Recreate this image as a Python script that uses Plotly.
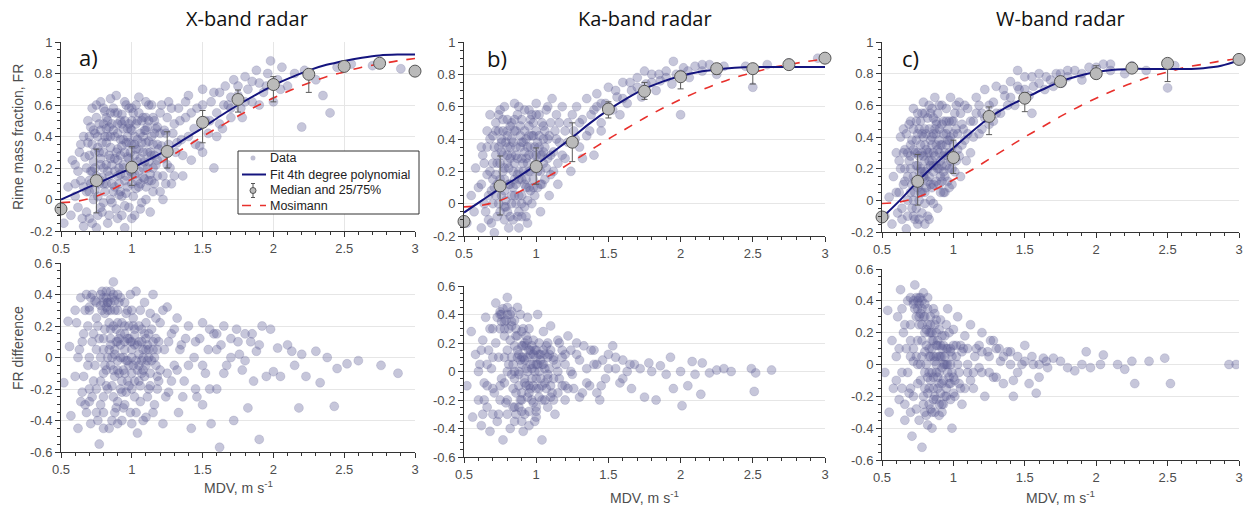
import plotly.graph_objects as go

# ---------------- data ----------------
BIN_X = [0.5, 0.75, 1.0, 1.25, 1.5, 1.75, 2.0, 2.25, 2.5, 2.75, 3.0]

# X-band medians and 25/75 percentiles
X_MED = [-0.06, 0.12, 0.205, 0.305, 0.49, 0.635, 0.73, 0.795, 0.845, 0.865, 0.815]
X_P25 = [-0.07, -0.085, 0.09, 0.2, 0.36, 0.555, 0.62, 0.68, 0.835, 0.855, 0.81]
X_P75 = [-0.05, 0.32, 0.335, 0.43, 0.565, 0.695, 0.78, 0.82, 0.855, 0.875, 0.82]
# Ka-band
K_MED = [-0.11, 0.11, 0.23, 0.38, 0.585, 0.695, 0.785, 0.835, 0.835, 0.86, 0.9]
K_P25 = [-0.12, -0.07, 0.12, 0.26, 0.53, 0.645, 0.71, 0.8, 0.74, 0.85, 0.895]
K_P75 = [-0.1, 0.295, 0.345, 0.5, 0.63, 0.75, 0.81, 0.85, 0.86, 0.87, 0.905]
# W-band (no bin at 2.75)
W_BIN_X = [0.5, 0.75, 1.0, 1.25, 1.5, 1.75, 2.0, 2.25, 2.5, 3.0]
W_MED = [-0.105, 0.12, 0.27, 0.53, 0.645, 0.75, 0.8, 0.835, 0.865, 0.89]
W_P25 = [-0.11, -0.03, 0.17, 0.415, 0.56, 0.74, 0.77, 0.825, 0.75, 0.885]
W_P75 = [-0.1, 0.29, 0.38, 0.59, 0.68, 0.76, 0.85, 0.845, 0.87, 0.895]

CURVE_X = [0.5, 0.625, 0.75, 0.875, 1.0, 1.125, 1.25, 1.375, 1.5, 1.625, 1.75,
           1.875, 2.0, 2.125, 2.25, 2.375, 2.5, 2.625, 2.75, 2.875, 3.0]
FIT_X = [0.0, 0.05, 0.1, 0.15, 0.2, 0.255, 0.315, 0.385, 0.455, 0.53, 0.6,
         0.665, 0.725, 0.775, 0.82, 0.855, 0.88, 0.9, 0.915, 0.92, 0.92]
FIT_K = [-0.055, 0.02, 0.095, 0.165, 0.24, 0.325, 0.41, 0.5, 0.58, 0.65, 0.71,
         0.755, 0.79, 0.815, 0.83, 0.84, 0.845, 0.845, 0.845, 0.845, 0.845]
FIT_W = [-0.11, 0.0, 0.12, 0.23, 0.33, 0.43, 0.52, 0.59, 0.645, 0.7, 0.75,
         0.785, 0.81, 0.825, 0.83, 0.83, 0.83, 0.83, 0.835, 0.85, 0.885]
MOSIMANN = [-0.02, -0.01, 0.02, 0.07, 0.13, 0.19, 0.26, 0.33, 0.4, 0.465, 0.53,
            0.59, 0.645, 0.695, 0.74, 0.78, 0.81, 0.84, 0.86, 0.88, 0.895]

# scatter clouds (MDV, FR) and (MDV, FR difference)
X_TOP = [(0.52,-0.15),(0.55,0.08),(0.57,-0.1),(0.6,0.22),(0.6,0.02),(0.62,-0.05),(0.63,0.3),(0.64,0.12),(0.58,0.25),(0.66,-0.17),
 (0.66,0.4),(0.68,0.05),(0.69,0.5),(0.7,-0.12),(0.7,0.28),(0.71,0.18),(0.72,0.58),(0.73,0.0),(0.74,0.42),(0.75,-0.18),
 (0.76,0.33),(0.77,0.1),(0.78,0.62),(0.78,0.22),(0.79,-0.08),(0.8,0.48),(0.81,0.05),(0.82,0.36),(0.83,-0.15),(0.84,0.15),
 (0.85,0.55),(0.85,0.26),(0.86,-0.02),(0.87,0.44),(0.88,0.08),(0.89,0.66),(0.9,0.32),(0.9,-0.12),(0.91,0.2),(0.92,0.5),
 (0.93,0.02),(0.94,0.38),(0.95,0.12),(0.95,-0.18),(0.96,0.6),(0.97,0.27),(0.98,-0.05),(0.99,0.45),(1.0,0.16),(1.0,0.35),
 (1.01,0.55),(1.02,-0.1),(1.03,0.07),(1.04,0.24),(1.05,0.65),(1.06,0.42),(1.07,-0.02),(1.08,0.3),(1.09,0.13),(1.1,0.52),
 (1.11,0.2),(1.12,0.37),(1.13,-0.08),(1.14,0.6),(1.15,0.05),(1.16,0.28),(1.17,0.45),(1.18,0.15),(1.2,0.55),(1.21,0.34),
 (1.22,0.0),(1.24,0.42),(1.25,0.22),(1.26,0.62),(1.28,0.1),(1.3,0.48),(1.31,0.3),(1.33,0.58),(1.35,0.38),(1.36,0.15),
 (1.38,0.52),(1.4,0.66),(1.42,0.25),(1.44,0.45),(1.46,0.58),(1.48,0.34),(1.5,0.7),(1.52,0.5),(1.54,0.42),(1.56,0.62),
 (1.58,0.2),(1.6,0.55),(1.62,0.68),(1.64,0.45),(1.66,0.72),(1.68,0.6),(1.7,0.52),(1.72,0.76),(1.75,0.66),(1.77,0.58),
 (1.8,0.78),(1.82,0.7),(1.85,0.62),(1.88,0.82),(1.9,0.74),(1.93,0.68),(1.96,0.8),(1.98,0.88),(2.0,0.62),(2.03,0.76),
 (2.06,0.84),(2.1,0.72),(2.15,0.8),(2.2,0.46),(2.22,0.82),(2.3,0.76),(2.35,0.66),(2.4,0.55),(2.45,0.84),(2.55,0.86),
 (2.7,0.85),(2.9,0.83),(0.8,0.3),(0.82,0.1),(0.88,0.4),(0.9,0.25),(0.92,0.05),(0.95,0.3),(0.97,0.45),(1.0,0.1),
 (1.02,0.28),(1.05,0.18),(1.08,0.4),(1.1,0.08),(0.75,0.15),(0.72,0.35),(0.85,0.0),(0.78,-0.05),(1.12,0.5),(1.15,0.35),
 (1.18,0.25),(1.22,0.15),(0.68,0.2),(0.93,-0.1),(0.98,0.58),(1.03,0.48)]
X_TOP_CORE = [(0.66,0.08),(0.67,0.27),(0.68,-0.08),(0.69,0.36),(0.7,0.12),(0.71,0.46),(0.72,-0.15),(0.73,0.24),(0.74,0.06),(0.75,0.52),
 (0.76,-0.1),(0.77,0.3),(0.78,0.44),(0.79,0.14),(0.8,-0.02),(0.81,0.56),(0.82,0.22),(0.83,0.4),(0.84,-0.1),(0.85,0.33),
 (0.86,0.1),(0.87,0.58),(0.88,0.18),(0.89,-0.06),(0.9,0.42),(0.91,0.03),(0.92,0.28),(0.93,0.54),(0.94,0.2),(0.95,-0.04),
 (0.96,0.36),(0.97,0.08),(0.98,0.48),(0.99,0.3),(1.0,-0.12),(1.01,0.22),(1.02,0.4),(1.03,0.6),(1.04,0.12),(1.05,0.32),
 (1.06,-0.06),(1.07,0.5),(1.08,0.2),(1.09,0.44),(1.1,0.0),(1.11,0.3),(1.12,0.6),(1.13,0.16),(1.14,0.4),(1.15,0.52),
 (1.16,0.1),(1.17,0.22),(1.18,0.46),(1.19,0.32),(1.2,0.05),(1.21,0.6),(1.22,0.26),(1.23,0.44),(1.24,0.1),(1.25,0.52),
 (1.26,0.35),(1.27,0.2),(1.28,0.58),(1.29,0.42),(1.3,0.15),(1.32,0.36),(1.34,0.5),(1.36,0.28),(1.38,0.62),(1.4,0.4),
 (0.62,0.18),(0.64,0.35),(0.65,-0.12),(0.6,0.1),(0.7,0.05),(0.72,0.18),(0.74,0.3),(0.76,0.4),(0.78,0.12),(0.8,0.2),
 (0.82,0.45),(0.84,0.28),(0.86,0.48),(0.88,0.55),(0.9,0.15),(0.92,0.38),(0.94,0.45),(0.96,0.15),(0.98,0.36),(1.0,0.5),
 (1.02,0.16),(1.04,0.38),(1.06,0.26),(1.08,0.52),(1.1,0.36),(1.12,0.24),(1.14,0.12),(1.16,0.5),(1.18,0.35),(1.2,0.42),
 (0.75,0.6),(0.8,0.58),(0.85,0.64),(0.9,0.55),(0.95,0.62),(1.0,0.58),(1.05,0.55),(1.1,0.62),(0.83,0.5),(0.93,0.48),
 (1.45,0.35),(1.5,0.6),(1.55,0.5),(1.6,0.4),(1.65,0.6),(1.7,0.65),(1.75,0.72),(1.8,0.62),(1.85,0.75),(1.9,0.6),
 (1.5,0.3),(1.42,0.55),(1.58,0.68),(1.62,0.48),(1.7,0.58),(1.78,0.52),(1.95,0.72),(2.05,0.7)]
X_TOP_DENSE = [(0.76,0.02),(0.78,0.26),(0.8,0.1),(0.81,0.4),(0.83,0.18),(0.84,0.46),(0.86,0.22),(0.87,0.05),(0.89,0.3),(0.9,0.48),
 (0.91,0.1),(0.93,0.34),(0.94,0.22),(0.96,0.04),(0.97,0.4),(0.99,0.18),(1.0,0.44),(1.01,0.02),(1.03,0.32),(1.04,0.5),
 (1.06,0.1),(1.07,0.36),(1.09,0.24),(1.1,0.44),(1.12,0.12),(1.13,0.3),(1.15,0.2),(1.16,0.42),(0.79,0.36),(0.82,0.52),
 (0.85,0.4),(0.88,0.26),(0.92,0.16),(0.95,0.5),(0.98,0.26),(1.02,0.35),(1.05,0.08),(1.08,0.14),(1.11,0.46),(1.14,0.28),
 (0.77,0.48),(0.74,0.2),(0.73,0.44),(0.71,0.1),(0.7,0.4)]

X_BOT = [(0.52,-0.16),(0.55,0.23),(0.56,0.07),(0.57,-0.37),(0.6,-0.12),(0.61,0.22),(0.62,-0.45),(0.63,0.05),(0.64,0.38),(0.65,-0.22),
 (0.66,0.15),(0.67,-0.3),(0.68,0.4),(0.69,-0.05),(0.7,0.3),(0.71,-0.42),(0.72,0.1),(0.73,-0.15),(0.74,0.36),(0.75,-0.35),
 (0.76,0.2),(0.77,-0.55),(0.78,0.0),(0.79,0.42),(0.8,-0.25),(0.81,0.28),(0.82,-0.08),(0.83,0.35),(0.84,-0.45),(0.85,0.12),
 (0.86,-0.18),(0.87,0.48),(0.88,0.05),(0.89,-0.32),(0.9,0.22),(0.91,-0.1),(0.92,0.38),(0.93,-0.4),(0.94,0.0),(0.95,0.15),
 (0.96,-0.22),(0.97,0.3),(0.98,-0.05),(0.99,-0.35),(1.0,0.1),(1.01,0.25),(1.02,-0.15),(1.03,0.42),(1.04,-0.48),(1.05,0.02),
 (1.06,-0.28),(1.07,0.18),(1.08,-0.08),(1.09,0.35),(1.1,-0.38),(1.11,0.08),(1.12,-0.2),(1.13,0.28),(1.14,-0.02),(1.15,0.4),
 (1.16,-0.3),(1.17,0.12),(1.18,-0.12),(1.2,0.22),(1.22,-0.42),(1.23,0.05),(1.25,0.32),(1.26,-0.22),(1.28,0.15),(1.3,-0.05),
 (1.32,0.25),(1.33,-0.35),(1.35,0.08),(1.37,-0.15),(1.4,0.2),(1.42,-0.45),(1.44,0.0),(1.46,-0.25),(1.48,0.12),(1.5,0.22),
 (1.52,-0.1),(1.54,0.05),(1.56,-0.42),(1.58,0.15),(1.6,-0.2),(1.62,-0.57),(1.63,0.08),(1.65,0.2),(1.67,-0.05),(1.7,0.12),
 (1.72,-0.4),(1.74,0.18),(1.76,0.02),(1.78,-0.08),(1.8,0.15),(1.82,-0.32),(1.84,0.1),(1.86,-0.15),(1.88,0.04),(1.9,-0.52),
 (1.92,0.2),(1.95,-0.12),(1.98,0.18),(2.0,-0.09),(2.03,0.06),(2.05,-0.12),(2.1,0.08),(2.13,0.04),(2.15,-0.05),(2.18,-0.32),
 (2.2,0.02),(2.23,-0.12),(2.3,0.04),(2.33,-0.16),(2.38,0.0),(2.43,-0.31),(2.45,-0.07),(2.52,-0.04),(2.6,-0.02),(2.76,-0.05),
 (2.88,-0.1),(0.8,0.05),(0.85,-0.05),(0.9,0.1),(0.95,-0.1),(1.0,0.0),(1.05,0.1),(1.1,-0.05),(0.88,0.3),(0.92,-0.2),
 (0.98,0.2),(1.02,-0.25),(1.08,0.05),(0.83,0.35),(0.86,0.38),(0.78,0.33),(1.12,0.0),(1.18,0.05),(0.75,0.05),(0.7,-0.2),
 (1.25,-0.1)]
X_BOT_CORE = [(0.65,0.1),(0.66,-0.12),(0.67,0.3),(0.68,-0.35),(0.69,0.2),(0.7,0.0),(0.71,0.38),(0.72,-0.25),(0.73,0.15),(0.74,-0.05),
 (0.75,0.25),(0.76,-0.4),(0.77,0.12),(0.78,-0.15),(0.79,0.3),(0.8,-0.35),(0.81,0.18),(0.82,0.38),(0.83,-0.2),(0.84,0.05),
 (0.85,0.3),(0.86,-0.4),(0.87,0.2),(0.88,-0.12),(0.89,0.1),(0.9,-0.28),(0.91,0.35),(0.92,0.0),(0.93,0.22),(0.94,-0.32),
 (0.95,0.05),(0.96,0.28),(0.97,-0.15),(0.98,0.12),(0.99,0.4),(1.0,-0.2),(1.01,-0.05),(1.02,0.18),(1.03,-0.35),(1.04,0.08),
 (1.05,-0.15),(1.06,0.3),(1.07,-0.02),(1.08,-0.4),(1.09,0.15),(1.1,0.22),(1.11,-0.25),(1.12,0.05),(1.13,-0.1),(1.14,0.18),
 (1.15,-0.35),(1.16,0.0),(1.17,0.25),(1.18,-0.2),(1.19,0.1),(1.2,-0.08),(1.22,0.3),(1.24,-0.25),(1.26,0.1),(1.28,-0.15),
 (1.3,0.18),(1.32,-0.08),(1.34,0.05),(1.36,-0.25),(1.38,0.12),(1.4,-0.05),(0.6,0.3),(0.62,0.0),(0.64,-0.28),(0.7,0.32),
 (0.75,0.35),(0.8,0.38),(0.85,0.42),(0.9,0.4),(0.95,0.35),(1.0,0.3),(0.78,0.4),(0.82,0.32),(0.88,0.36),(0.72,0.4),
 (0.8,-0.1),(0.85,0.08),(0.9,-0.02),(0.95,0.1),(1.0,0.05),(1.05,-0.05),(1.1,0.12),(0.87,-0.08),(0.92,0.15),(0.97,-0.02),
 (1.02,0.08),(1.07,0.1),(0.83,0.0),(0.93,-0.15),(1.15,0.05),(0.75,-0.2),(0.7,-0.28),(0.8,-0.45),(0.9,-0.42),(1.0,-0.42),
 (1.45,0.1),(1.5,-0.05),(1.55,0.18),(1.6,0.05),(1.65,-0.1),(1.7,0.0),(1.75,0.1),(1.8,-0.02),(1.85,0.15),(1.9,0.08),
 (1.5,-0.3),(1.55,-0.2),(1.45,-0.2),(1.6,0.15)]
X_BOT_DENSE = [(0.8,0.12),(0.82,-0.18),(0.84,0.22),(0.86,0.0),(0.87,-0.25),(0.89,0.18),(0.9,-0.08),(0.92,0.08),(0.93,-0.22),(0.95,0.2),
 (0.96,-0.02),(0.98,-0.18),(0.99,0.1),(1.0,-0.1),(1.02,0.14),(1.03,-0.02),(1.05,0.2),(1.06,-0.18),(1.08,0.0),(1.09,-0.12),
 (1.1,0.05),(1.12,0.15),(1.13,-0.18),(1.15,0.1),(1.17,-0.05),(1.19,-0.15),(0.81,-0.05),(0.85,0.18),(0.88,0.02),(0.91,0.12),
 (0.94,-0.08),(0.97,0.12),(1.01,0.2),(1.04,-0.08),(1.07,-0.1),(1.11,-0.02),(0.83,0.3),(0.8,0.35),(0.85,0.35),(0.9,0.3),
 (0.87,0.4),(0.82,0.42),(0.78,-0.3),(0.88,-0.35),(0.95,-0.3)]

K_TOP = [(0.52,-0.12),(0.55,0.05),(0.57,-0.05),(0.58,0.22),(0.6,0.1),(0.62,-0.15),(0.63,0.3),(0.64,0.0),(0.66,0.18),(0.67,-0.1),
 (0.68,0.4),(0.69,0.08),(0.7,0.25),(0.71,-0.18),(0.72,0.45),(0.73,0.12),(0.74,0.55),(0.75,-0.05),(0.76,0.32),(0.77,0.2),
 (0.78,0.6),(0.79,0.02),(0.8,0.42),(0.81,-0.15),(0.82,0.28),(0.83,0.5),(0.84,0.1),(0.85,0.62),(0.86,0.35),(0.87,-0.08),
 (0.88,0.2),(0.89,0.48),(0.9,0.05),(0.91,0.38),(0.92,0.58),(0.93,0.15),(0.94,-0.12),(0.95,0.3),(0.96,0.52),(0.97,0.0),
 (0.98,0.42),(0.99,0.22),(1.0,0.62),(1.01,0.1),(1.02,0.35),(1.03,-0.05),(1.04,0.5),(1.05,0.25),(1.06,0.15),(1.07,0.58),
 (1.08,0.4),(1.09,0.05),(1.1,0.3),(1.11,0.65),(1.12,0.2),(1.13,0.45),(1.14,0.55),(1.15,0.12),(1.16,0.38),(1.18,0.6),
 (1.2,0.28),(1.22,0.5),(1.24,0.2),(1.26,0.45),(1.28,0.6),(1.3,0.35),(1.32,0.52),(1.35,0.65),(1.37,0.45),(1.4,0.58),
 (1.42,0.68),(1.45,0.5),(1.48,0.62),(1.5,0.72),(1.53,0.58),(1.56,0.66),(1.6,0.75),(1.63,0.62),(1.66,0.7),(1.7,0.78),
 (1.73,0.66),(1.76,0.74),(1.8,0.8),(1.83,0.7),(1.86,0.76),(1.9,0.82),(1.94,0.74),(1.97,0.8),(2.0,0.55),(2.02,0.84),
 (2.06,0.78),(2.1,0.85),(2.15,0.82),(2.2,0.86),(2.25,0.8),(2.3,0.85),(2.45,0.85),(2.5,0.72),(2.6,0.86),(2.75,0.87),
 (2.95,0.9),(1.95,0.88),(1.75,0.82),(1.4,0.3),(1.32,0.28),(0.78,-0.02),(0.85,0.25),(0.9,0.15),(0.95,0.42),(1.0,0.3),
 (0.8,0.35),(0.82,0.12),(0.88,-0.15),(0.93,0.28),(0.98,0.1),(1.03,0.2),(0.75,0.15),(0.7,0.0),(1.05,0.4),(1.1,0.18),
 (0.87,0.55),(0.92,0.45),(0.72,0.3),(0.77,0.45),(0.83,0.05)]
K_TOP_CORE = [(0.62,0.12),(0.64,0.25),(0.65,-0.05),(0.66,0.35),(0.67,0.05),(0.68,0.2),(0.69,-0.12),(0.7,0.42),(0.71,0.1),(0.72,0.18),
 (0.73,-0.08),(0.74,0.35),(0.75,0.25),(0.76,0.05),(0.77,0.52),(0.78,0.15),(0.79,0.38),(0.8,-0.05),(0.81,0.22),(0.82,0.48),
 (0.83,0.3),(0.84,-0.1),(0.85,0.15),(0.86,0.45),(0.87,0.28),(0.88,0.05),(0.89,0.35),(0.9,0.52),(0.91,0.2),(0.92,-0.02),
 (0.93,0.4),(0.94,0.25),(0.95,0.1),(0.96,0.35),(0.97,0.55),(0.98,0.3),(0.99,0.05),(1.0,0.45),(1.01,0.2),(1.02,0.55),
 (1.03,0.3),(1.04,0.12),(1.05,0.48),(1.06,0.35),(1.07,0.22),(1.08,0.6),(1.09,0.42),(1.1,0.5),(1.12,0.32),(1.14,0.4),
 (1.16,0.5),(1.18,0.3),(1.2,0.45),(1.22,0.38),(1.25,0.55),(0.72,0.5),(0.75,0.58),(0.8,0.52),(0.85,0.45),(0.88,0.6),
 (0.95,0.58),(0.98,0.5),(1.0,0.55),(0.76,0.4),(0.8,0.25),(0.84,0.38),(0.86,0.12),(0.9,0.28),(0.92,0.12),(0.96,0.2),
 (0.7,0.15),(0.74,0.0),(0.78,0.08),(0.82,-0.08),(0.86,0.0),(0.9,-0.08),(0.94,0.02),(0.66,0.45),(0.68,0.55),(0.62,0.35),
 (1.3,0.5),(1.35,0.42),(1.38,0.55),(1.42,0.6),(1.45,0.62),(1.5,0.6),(1.55,0.7),(1.6,0.65),(1.65,0.75),(1.7,0.72),
 (1.8,0.75),(1.85,0.8),(1.9,0.78),(2.0,0.8),(2.05,0.82),(2.15,0.86),(1.58,0.55),(1.45,0.45),(1.27,0.4),(1.15,0.25)]
K_TOP_DENSE = [(0.72,0.05),(0.73,0.25),(0.75,0.1),(0.76,0.38),(0.78,0.22),(0.79,-0.02),(0.8,0.3),(0.81,0.12),(0.83,0.4),(0.84,0.2),
 (0.85,0.05),(0.86,0.3),(0.88,0.15),(0.89,0.42),(0.9,0.0),(0.91,0.25),(0.93,0.1),(0.94,0.35),(0.95,0.2),(0.97,0.42),
 (0.98,0.15),(1.0,0.25),(1.01,0.38),(1.03,0.12),(1.04,0.3),(1.06,0.45),(0.74,0.45),(0.77,0.3),(0.82,0.35),(0.87,0.18),
 (0.92,0.32),(0.96,0.08),(0.99,0.35),(1.02,0.42),(0.71,0.35),(0.8,0.45),(0.85,0.52),(0.9,0.38),(0.95,0.48),(0.78,-0.1),
 (0.83,0.0),(0.88,-0.05),(0.93,-0.08),(1.05,0.32),(1.08,0.28)]

K_BOT = [(0.52,-0.1),(0.55,0.28),(0.56,-0.32),(0.58,0.12),(0.6,-0.2),(0.61,0.05),(0.62,-0.38),(0.63,0.22),(0.64,-0.08),(0.65,0.38),
 (0.66,-0.25),(0.67,0.15),(0.68,-0.42),(0.69,0.02),(0.7,0.3),(0.71,-0.15),(0.72,0.48),(0.73,-0.35),(0.74,0.1),(0.75,0.4),
 (0.76,-0.05),(0.77,-0.48),(0.78,0.25),(0.79,-0.22),(0.8,0.52),(0.81,0.05),(0.82,-0.4),(0.83,0.35),(0.84,-0.12),(0.85,0.18),
 (0.86,-0.3),(0.87,0.45),(0.88,0.0),(0.89,-0.2),(0.9,0.28),(0.91,-0.42),(0.92,0.08),(0.93,-0.1),(0.94,0.38),(0.95,-0.28),
 (0.96,0.15),(0.97,-0.05),(0.98,0.22),(0.99,-0.35),(1.0,0.05),(1.01,0.4),(1.02,-0.18),(1.03,0.12),(1.04,-0.48),(1.05,0.28),
 (1.06,-0.08),(1.07,0.18),(1.08,-0.25),(1.09,0.02),(1.1,0.32),(1.11,-0.15),(1.12,0.1),(1.13,-0.3),(1.15,0.22),(1.16,-0.05),
 (1.18,0.15),(1.2,-0.2),(1.22,0.25),(1.24,0.0),(1.26,-0.12),(1.28,0.12),(1.3,-0.18),(1.33,0.18),(1.35,0.02),(1.37,-0.1),
 (1.4,0.15),(1.42,0.05),(1.44,-0.2),(1.46,0.08),(1.48,-0.05),(1.5,0.12),(1.53,0.18),(1.55,0.02),(1.58,-0.08),(1.6,0.08),
 (1.63,0.0),(1.66,-0.12),(1.68,0.05),(1.72,0.02),(1.75,-0.18),(1.78,0.06),(1.8,0.0),(1.83,-0.2),(1.86,0.04),(1.9,-0.02),
 (1.93,0.1),(1.95,-0.12),(2.0,0.0),(2.01,-0.24),(2.05,-0.1),(2.08,0.07),(2.1,-0.02),(2.14,-0.16),(2.15,0.06),(2.2,-0.01),
 (2.25,0.01),(2.3,0.02),(2.35,0.0),(2.49,0.02),(2.51,-0.14),(2.52,-0.01),(2.63,0.01),(0.85,-0.05),(0.9,0.1),(0.95,-0.1),
 (1.0,-0.05),(1.05,0.05),(0.92,0.2),(0.97,-0.2),(1.02,0.0),(0.88,-0.25),(0.8,0.4),(0.78,0.35),(0.75,0.42),(1.08,0.1),
 (1.12,-0.05),(0.83,0.1),(0.7,-0.3),(0.93,0.02),(1.0,0.15)]
K_BOT_CORE = [(0.62,0.15),(0.64,-0.2),(0.66,0.05),(0.68,0.3),(0.7,-0.12),(0.72,0.2),(0.74,-0.3),(0.76,0.35),(0.78,-0.08),(0.8,0.15),
 (0.82,0.4),(0.84,-0.25),(0.86,0.3),(0.88,0.12),(0.9,-0.15),(0.92,-0.3),(0.94,0.1),(0.96,-0.12),(0.98,0.05),(1.0,-0.25),
 (1.02,0.2),(1.04,-0.1),(1.06,0.12),(1.08,-0.05),(1.1,0.15),(1.12,-0.2),(1.14,0.05),(1.16,0.2),(1.18,-0.1),(1.2,0.05),
 (1.22,-0.12),(1.24,0.15),(0.73,0.38),(0.75,0.3),(0.77,0.44),(0.79,0.36),(0.81,0.3),(0.83,0.42),(0.85,0.36),(0.87,0.25),
 (0.89,0.4),(0.91,0.3),(0.93,0.25),(0.95,0.3),(0.97,0.18),(0.85,0.0),(0.88,-0.1),(0.9,0.05),(0.92,-0.05),(0.94,-0.18),
 (0.96,0.05),(0.98,-0.1),(1.0,0.1),(1.02,-0.12),(1.04,0.05),(1.06,-0.2),(1.08,0.2),(1.1,-0.1),(0.95,0.15),(0.99,0.0),
 (1.03,0.08),(0.87,0.1),(0.91,0.18),(0.83,-0.02),(0.8,-0.3),(0.85,-0.35),(0.9,-0.35),(0.95,-0.38),(1.0,-0.32),(0.75,-0.2),
 (0.7,0.1),(0.66,-0.1),(0.6,0.0),(0.63,-0.3),(0.78,0.1),(1.15,-0.15),(1.2,0.12),(1.25,-0.02),(1.3,0.08),(1.35,-0.08),
 (1.4,0.05),(1.45,-0.1),(1.5,0.02),(1.55,0.1),(1.6,-0.05),(1.65,0.05),(1.38,0.15),(1.42,-0.15),(1.28,0.2),(1.32,-0.15)]
K_BOT_DENSE = [(0.84,0.05),(0.86,-0.15),(0.87,0.15),(0.88,-0.02),(0.89,0.08),(0.9,-0.2),(0.91,0.1),(0.92,-0.08),(0.93,0.18),(0.94,0.0),
 (0.95,-0.15),(0.96,0.12),(0.97,0.02),(0.98,-0.22),(0.99,0.15),(1.0,-0.12),(1.01,0.05),(1.02,0.12),(1.03,-0.05),(1.04,-0.2),
 (1.05,0.15),(1.06,0.02),(1.07,-0.12),(1.08,-0.02),(1.09,0.12),(1.1,-0.18),(0.86,0.25),(0.9,0.18),(0.94,0.22),(0.98,0.12),
 (0.8,0.0),(0.82,0.22),(0.78,0.3),(0.76,0.4),(0.8,0.45),(0.83,0.32),(0.75,-0.1),(0.8,-0.2),(0.85,-0.25),(0.9,-0.28),
 (1.0,-0.28),(1.12,0.08),(1.15,0.0),(1.18,0.1),(1.2,-0.1)]

W_TOP = [(0.52,-0.1),(0.55,0.02),(0.57,-0.15),(0.58,0.15),(0.6,0.05),(0.61,-0.08),(0.62,0.25),(0.63,0.4),(0.64,-0.12),(0.65,0.1),
 (0.66,0.32),(0.67,-0.18),(0.68,0.0),(0.69,0.48),(0.7,0.2),(0.71,-0.05),(0.72,0.58),(0.73,0.12),(0.74,0.38),(0.75,-0.15),
 (0.76,0.28),(0.77,0.5),(0.78,0.05),(0.79,0.62),(0.8,0.18),(0.81,0.42),(0.82,-0.1),(0.83,0.3),(0.84,0.55),(0.85,0.08),
 (0.86,0.22),(0.87,0.65),(0.88,0.35),(0.89,-0.05),(0.9,0.45),(0.91,0.15),(0.92,0.6),(0.93,0.28),(0.94,0.05),(0.95,0.5),
 (0.96,0.38),(0.97,0.2),(0.98,0.65),(0.99,0.1),(1.0,0.42),(1.01,0.55),(1.02,0.25),(1.03,0.32),(1.04,0.62),(1.05,0.15),
 (1.06,0.48),(1.08,0.38),(1.1,0.58),(1.12,0.3),(1.14,0.5),(1.16,0.65),(1.18,0.42),(1.2,0.55),(1.22,0.7),(1.25,0.48),
 (1.28,0.62),(1.3,0.72),(1.33,0.55),(1.36,0.66),(1.4,0.75),(1.43,0.6),(1.46,0.7),(1.5,0.78),(1.53,0.66),(1.56,0.72),
 (1.6,0.8),(1.64,0.7),(1.68,0.76),(1.72,0.8),(1.76,0.74),(1.8,0.78),(1.85,0.82),(1.9,0.76),(1.95,0.84),(2.0,0.8),
 (2.05,0.86),(2.1,0.82),(2.2,0.8),(2.25,0.85),(2.35,0.82),(2.5,0.71),(2.55,0.85),(3.0,0.88),(1.45,0.82),(1.55,0.55),
 (0.75,0.22),(0.8,0.35),(0.85,0.4),(0.9,0.3),(0.78,0.3),(0.82,0.2),(0.88,0.12),(0.93,0.42),(0.97,0.5),(1.0,0.28),
 (0.72,0.0),(0.7,0.35),(0.76,0.45),(0.86,0.52),(0.95,0.22),(1.02,0.45),(0.68,0.15),(0.8,0.55),(0.84,0.0),(0.92,0.35)]
W_TOP_CORE = [(0.62,0.05),(0.63,0.2),(0.64,-0.05),(0.65,0.3),(0.66,0.12),(0.67,0.42),(0.68,-0.1),(0.69,0.25),(0.7,0.05),(0.71,0.38),
 (0.72,0.15),(0.73,-0.12),(0.74,0.5),(0.75,0.3),(0.76,0.1),(0.77,0.2),(0.78,-0.08),(0.79,0.4),(0.8,0.25),(0.81,0.08),
 (0.82,0.52),(0.83,0.15),(0.84,0.38),(0.85,0.25),(0.86,-0.02),(0.87,0.45),(0.88,0.22),(0.89,0.55),(0.9,0.1),(0.91,0.35),
 (0.92,0.48),(0.93,0.18),(0.94,0.3),(0.95,0.58),(0.96,0.12),(0.97,0.38),(0.98,0.25),(0.99,0.5),(1.0,0.35),(1.01,0.18),
 (1.02,0.6),(1.03,0.42),(1.04,0.28),(1.05,0.55),(1.06,0.35),(1.07,0.45),(1.08,0.6),(1.09,0.25),(1.1,0.42),(1.12,0.5),
 (1.14,0.4),(1.16,0.55),(1.18,0.6),(1.2,0.45),(0.7,0.5),(0.72,0.45),(0.75,0.55),(0.78,0.55),(0.8,0.45),(0.83,0.6),
 (0.85,0.58),(0.88,0.5),(0.9,0.6),(0.73,0.3),(0.76,0.18),(0.79,0.15),(0.82,0.3),(0.84,0.1),(0.86,0.3),(0.88,0.42),
 (0.9,0.2),(0.93,0.05),(0.96,0.45),(0.99,0.3),(0.74,-0.05),(0.77,0.05),(0.8,-0.02),(0.83,-0.12),(0.86,0.18),(0.91,0.25),
 (1.25,0.6),(1.3,0.55),(1.35,0.7),(1.4,0.65),(1.45,0.72),(1.5,0.7),(1.55,0.78),(1.6,0.74),(1.65,0.78),(1.7,0.72),
 (1.75,0.8),(1.8,0.82),(1.9,0.8),(2.0,0.84),(2.1,0.86),(1.28,0.5),(1.38,0.6),(1.22,0.52),(0.65,0.45),(0.6,0.3)]
W_TOP_DENSE = [(0.7,0.28),(0.71,0.1),(0.72,0.32),(0.73,0.05),(0.74,0.22),(0.75,0.42),(0.76,0.0),(0.77,0.35),(0.78,0.18),(0.79,0.28),
 (0.8,0.05),(0.81,0.32),(0.82,0.12),(0.83,0.45),(0.84,0.22),(0.85,0.35),(0.86,0.1),(0.87,0.28),(0.88,0.48),(0.89,0.2),
 (0.9,0.38),(0.91,0.05),(0.92,0.22),(0.93,0.5),(0.94,0.15),(0.95,0.35),(0.96,0.28),(0.97,0.08),(0.98,0.4),(0.99,0.2),
 (1.0,0.5),(0.75,0.08),(0.78,0.42),(0.8,0.14),(0.83,0.25),(0.86,0.42),(0.89,0.32),(0.92,0.12),(0.95,0.42),(0.97,0.3),
 (0.72,-0.1),(0.76,-0.12),(0.8,-0.15),(0.68,0.3),(0.66,0.2)]

W_BOT = [(0.52,-0.05),(0.54,0.34),(0.55,-0.3),(0.57,0.15),(0.58,-0.15),(0.6,0.05),(0.61,0.3),(0.62,-0.22),(0.63,0.47),(0.64,-0.05),
 (0.65,0.2),(0.66,-0.35),(0.67,0.1),(0.68,0.4),(0.69,-0.18),(0.7,0.25),(0.71,-0.45),(0.72,0.02),(0.73,0.5),(0.74,-0.28),
 (0.75,0.15),(0.76,0.38),(0.77,-0.1),(0.78,-0.52),(0.79,0.3),(0.8,0.08),(0.81,-0.32),(0.82,0.42),(0.83,-0.15),(0.84,0.2),
 (0.85,-0.4),(0.86,0.05),(0.87,0.32),(0.88,-0.22),(0.89,0.12),(0.9,-0.05),(0.91,0.28),(0.92,-0.3),(0.93,0.0),(0.94,0.18),
 (0.95,-0.15),(0.96,0.35),(0.97,-0.08),(0.98,0.1),(0.99,-0.4),(1.0,0.22),(1.01,-0.2),(1.02,0.05),(1.03,0.3),(1.04,-0.12),
 (1.05,0.12),(1.06,-0.25),(1.08,0.18),(1.1,-0.05),(1.12,0.25),(1.14,-0.15),(1.16,0.1),(1.18,-0.02),(1.2,0.2),(1.22,-0.2),
 (1.24,0.08),(1.26,0.15),(1.28,-0.08),(1.3,0.1),(1.33,0.02),(1.35,-0.12),(1.38,0.08),(1.4,0.0),(1.42,-0.2),(1.45,0.05),
 (1.48,0.0),(1.5,0.12),(1.53,-0.12),(1.56,0.0),(1.58,-0.18),(1.6,-0.08),(1.63,0.04),(1.66,-0.02),(1.7,0.04),(1.75,0.02),
 (1.8,-0.02),(1.85,-0.04),(1.9,0.0),(1.93,0.08),(1.96,-0.02),(2.03,0.0),(2.05,0.06),(2.15,0.0),(2.2,-0.03),(2.25,0.02),
 (2.27,-0.12),(2.37,0.02),(2.48,0.04),(2.52,-0.12),(2.93,0.0),(2.98,0.0),(0.85,-0.05),(0.88,0.0),(0.9,-0.12),(0.92,0.05),
 (0.95,0.0),(0.87,-0.2),(0.83,0.1),(0.8,-0.15),(0.78,0.35),(0.75,0.4),(0.77,0.42),(0.98,-0.22),(1.0,-0.08),(0.93,-0.25),
 (0.82,0.25),(0.7,-0.3),(0.86,0.15),(0.92,0.18)]
W_BOT_CORE = [(0.62,0.1),(0.64,-0.15),(0.66,0.25),(0.68,-0.05),(0.7,0.15),(0.72,-0.2),(0.73,0.35),(0.74,0.05),(0.75,-0.12),(0.76,0.25),
 (0.77,0.0),(0.78,0.15),(0.79,-0.25),(0.8,0.3),(0.81,0.0),(0.82,-0.08),(0.83,0.2),(0.84,-0.28),(0.85,0.1),(0.86,-0.15),
 (0.87,0.25),(0.88,-0.05),(0.89,0.15),(0.9,-0.25),(0.91,0.05),(0.92,-0.12),(0.93,0.12),(0.94,-0.2),(0.95,0.1),(0.96,-0.05),
 (0.97,0.2),(0.98,-0.12),(0.99,0.05),(1.0,-0.18),(1.02,0.12),(1.04,-0.05),(1.06,0.08),(1.08,-0.15),(1.1,0.1),(1.12,-0.1),
 (0.72,0.4),(0.74,0.42),(0.76,0.3),(0.78,0.4),(0.8,0.38),(0.82,0.35),(0.84,0.3),(0.86,0.35),(0.88,0.28),(0.7,0.42),
 (0.75,0.35),(0.79,0.45),(0.81,0.22),(0.85,0.2),(0.9,0.22),(0.95,0.25),(0.8,-0.3),(0.85,-0.3),(0.9,-0.32),(0.82,-0.38),
 (0.76,-0.35),(0.7,-0.15),(0.66,-0.25),(0.64,0.35),(0.6,-0.1),(0.88,0.05),(0.92,-0.02),(0.94,0.0),(0.96,0.1),(0.98,0.0),
 (0.86,-0.08),(0.89,-0.15),(0.91,0.12),(0.84,0.05),(0.83,-0.05),(1.15,0.05),(1.18,0.12),(1.2,-0.05),(1.25,0.05),(1.3,-0.08),
 (1.35,0.05),(1.4,0.08),(1.45,-0.05),(1.5,0.02),(1.55,0.05),(1.6,0.0),(1.65,0.02),(1.28,0.15),(1.32,0.1),(1.42,-0.1)]
W_BOT_DENSE = [(0.8,-0.05),(0.81,0.12),(0.82,-0.18),(0.83,0.05),(0.84,-0.1),(0.85,0.15),(0.86,-0.22),(0.87,0.02),(0.88,0.12),(0.89,-0.08),
 (0.9,0.05),(0.91,-0.18),(0.92,0.1),(0.93,-0.1),(0.94,0.05),(0.95,-0.2),(0.96,0.0),(0.97,-0.12),(0.98,0.08),(0.99,-0.05),
 (1.0,0.12),(1.01,-0.1),(1.03,0.0),(1.05,-0.15),(1.07,0.1),(0.78,0.25),(0.77,0.32),(0.74,0.3),(0.72,0.38),(0.76,0.42),
 (0.8,0.2),(0.84,0.25),(0.88,0.2),(0.79,-0.2),(0.83,-0.25),(0.87,-0.3),(0.92,-0.25),(0.7,0.05),(0.72,0.1),(0.75,0.0),
 (0.78,0.05),(1.1,0.0),(1.14,-0.05),(1.2,0.08),(1.25,-0.05)]

TITLES = ["X-band radar", "Ka-band radar", "W-band radar"]
PANEL_LABELS = ["a)", "b)", "c)"]
LEGEND_LABELS = ["Data", "Fit 4th degree polynomial", "Median and 25/75%", "Mosimann"]

# ---------------- styling / layout ----------------
W, H = 1250, 506
SANS = "Liberation Sans, Arial, sans-serif"
TICKFONT = dict(family=SANS, size=13, color="#4d4d4d")
DOT = "rgba(98,98,152,0.36)"
DOT_EDGE = "rgba(90,90,140,0.3)"
NAVY = "#14147e"
RED = "#e8302c"

# pixel boxes (left, right, top, bottom) for each axis pair
TOP_BOX = [(61, 415, 42, 231), (464, 825, 42, 236), (882, 1239, 42, 232)]
BOT_BOX = [(61, 415, 263, 452), (464, 825, 286, 457), (882, 1239, 269, 460)]

fig = go.Figure()


def xs(pts):
    return [p[0] for p in pts]


def ys(pts):
    return [p[1] for p in pts]


top_sets = [
    (X_TOP + X_TOP_CORE + X_TOP_DENSE, BIN_X, X_MED, X_P25, X_P75, FIT_X),
    (K_TOP + K_TOP_CORE + K_TOP_DENSE, BIN_X, K_MED, K_P25, K_P75, FIT_K),
    (W_TOP + W_TOP_CORE + W_TOP_DENSE, W_BIN_X, W_MED, W_P25, W_P75, FIT_W),
]
bot_sets = [X_BOT + X_BOT_CORE + X_BOT_DENSE,
            K_BOT + K_BOT_CORE + K_BOT_DENSE,
            W_BOT + W_BOT_CORE + W_BOT_DENSE]

for i, (pts, bx, med, p25, p75, fit) in enumerate(top_sets):
    ax = "" if i == 0 else str(i + 1)
    fig.add_trace(go.Scatter(
        x=xs(pts), y=ys(pts), mode="markers", name="Data",
        marker=dict(size=9, color=DOT, line=dict(width=0.6, color=DOT_EDGE)),
        xaxis="x" + ax, yaxis="y" + ax))
    fig.add_trace(go.Scatter(
        x=CURVE_X, y=MOSIMANN, mode="lines", name="Mosimann",
        line=dict(color=RED, width=1.6, dash="dash", shape="spline"),
        xaxis="x" + ax, yaxis="y" + ax))
    fig.add_trace(go.Scatter(
        x=CURVE_X, y=fit, mode="lines", name="Fit 4th degree polynomial",
        line=dict(color=NAVY, width=2, shape="spline"),
        xaxis="x" + ax, yaxis="y" + ax))
    fig.add_trace(go.Scatter(
        x=bx, y=med, mode="markers", name="Median and 25/75%",
        cliponaxis=False,
        error_y=dict(type="data", symmetric=False,
                     array=[a - m for a, m in zip(p75, med)],
                     arrayminus=[m - b for b, m in zip(p25, med)],
                     color="#5a5a5a", thickness=1, width=3),
        marker=dict(size=12, color="#bababa", line=dict(color="#555555", width=1)),
        xaxis="x" + ax, yaxis="y" + ax))

for i, pts in enumerate(bot_sets):
    ax = str(i + 4)
    fig.add_trace(go.Scatter(
        x=xs(pts), y=ys(pts), mode="markers",
        marker=dict(size=9, color=DOT, line=dict(width=0.6, color=DOT_EDGE)),
        xaxis="x" + ax, yaxis="y" + ax))


def xaxis_cfg(box, anchor, grid):
    l, r, t, b = box
    return dict(domain=[l / W, r / W], anchor=anchor, range=[0.5, 3], automargin=False,
                tickvals=[0.5, 1, 1.5, 2, 2.5, 3], ticktext=["0.5", "1", "1.5", "2", "2.5", "3"],
                ticks="outside", ticklen=5, tickcolor="#333", tickwidth=1,
                minor=dict(dtick=0.1, tick0=0.5, ticks="outside", ticklen=3, tickcolor="#333",
                           showgrid=False),
                showline=True, linecolor="#333", linewidth=1,
                showgrid=grid, gridcolor="#e6e6e6", gridwidth=1,
                zeroline=False, tickfont=TICKFONT, fixedrange=True)


def yaxis_cfg(box, anchor, rng, vals):
    l, r, t, b = box
    return dict(domain=[1 - b / H, 1 - t / H], anchor=anchor, range=rng, automargin=False,
                tickvals=vals, ticktext=[("%g" % v) for v in vals],
                ticks="outside", ticklen=5, tickcolor="#333", tickwidth=1,
                minor=dict(dtick=0.05, tick0=0, ticks="outside", ticklen=3, tickcolor="#333",
                           showgrid=False),
                showline=True, linecolor="#333", linewidth=1,
                showgrid=True, gridcolor="#e6e6e6", gridwidth=1,
                zeroline=False, tickfont=TICKFONT, fixedrange=True)


layout = dict(
    width=W, height=H, margin=dict(l=0, r=0, t=0, b=0, pad=0),
    paper_bgcolor="white", plot_bgcolor="white",
    font=dict(family=SANS, color="#333"),
    showlegend=False,
)
top_y_vals = [-0.2, 0, 0.2, 0.4, 0.6, 0.8, 1]
bot_y_vals = [-0.6, -0.4, -0.2, 0, 0.2, 0.4, 0.6]
for i in range(3):
    k = "" if i == 0 else str(i + 1)
    layout["xaxis" + k] = xaxis_cfg(TOP_BOX[i], "y" + k, grid=(i == 0))
    layout["yaxis" + k] = yaxis_cfg(TOP_BOX[i], "x" + k, [-0.2, 1], top_y_vals)
    kb = str(i + 4)
    layout["xaxis" + kb] = xaxis_cfg(BOT_BOX[i], "y" + kb, grid=False)
    layout["yaxis" + kb] = yaxis_cfg(BOT_BOX[i], "x" + kb, [-0.6, 0.6], bot_y_vals)

fig.update_layout(**layout)


def px(x):
    return x / W


def py(y):
    return 1 - y / H


ann = []
shapes = []
title_cx = [247, 645, 1060]
for i in range(3):
    ann.append(dict(text=TITLES[i], x=px(title_cx[i]), y=py(18), xref="paper", yref="paper",
                    xanchor="center", yanchor="middle", showarrow=False,
                    font=dict(family="Open Sans, sans-serif", size=20, color="#111")))
label_pos = [(88, 57), (497, 58), (910, 58)]
for i in range(3):
    ann.append(dict(text=PANEL_LABELS[i], x=px(label_pos[i][0]), y=py(label_pos[i][1]),
                    xref="paper", yref="paper", xanchor="center", yanchor="middle",
                    showarrow=False,
                    font=dict(family="Open Sans, sans-serif", size=22, color="#111")))
xlab_y = [487, 497, 497]
for i in range(3):
    l, r, t, b = BOT_BOX[i]
    ann.append(dict(text="MDV, m s<sup>-1</sup>", x=px((l + r) / 2), y=py(xlab_y[i]),
                    xref="paper", yref="paper", xanchor="center", yanchor="middle",
                    showarrow=False, font=dict(family=SANS, size=14, color="#4d4d4d")))
ann.append(dict(text="Rime mass fraction, FR", x=px(18), y=py(137), xref="paper", yref="paper",
                xanchor="center", yanchor="middle", textangle=-90, showarrow=False,
                font=dict(family=SANS, size=14, color="#4d4d4d")))
ann.append(dict(text="FR difference", x=px(18), y=py(348), xref="paper", yref="paper",
                xanchor="center", yanchor="middle", textangle=-90, showarrow=False,
                font=dict(family=SANS, size=14, color="#4d4d4d")))

# ---- hand-built legend (box in panel a) ----
LG_L, LG_R, LG_T, LG_B = 238, 419, 151, 214
rows = [158, 174.5, 190.5, 205.5]
shapes.append(dict(type="rect", xref="paper", yref="paper", x0=px(LG_L), x1=px(LG_R),
                   y0=py(LG_B), y1=py(LG_T), line=dict(color="#333", width=1),
                   fillcolor="white", layer="above"))
shapes.append(dict(type="circle", xref="paper", yref="paper", x0=px(250.5), x1=px(255.5),
                   y0=py(rows[0] + 2.5), y1=py(rows[0] - 2.5), line=dict(width=0),
                   fillcolor="rgba(175,175,200,0.8)", layer="above"))
shapes.append(dict(type="line", xref="paper", yref="paper", x0=px(242), x1=px(266),
                   y0=py(rows[1]), y1=py(rows[1]), line=dict(color=NAVY, width=2), layer="above"))
shapes.append(dict(type="line", xref="paper", yref="paper", x0=px(253), x1=px(253),
                   y0=py(rows[2] - 7), y1=py(rows[2] + 7), line=dict(color="#555", width=1),
                   layer="above"))
for dy in (-7, 7):
    shapes.append(dict(type="line", xref="paper", yref="paper", x0=px(251), x1=px(255),
                       y0=py(rows[2] + dy), y1=py(rows[2] + dy), line=dict(color="#555", width=1),
                       layer="above"))
shapes.append(dict(type="circle", xref="paper", yref="paper", x0=px(250), x1=px(256),
                   y0=py(rows[2] + 3), y1=py(rows[2] - 3), line=dict(color="#555", width=1),
                   fillcolor="#bababa", layer="above"))
shapes.append(dict(type="line", xref="paper", yref="paper", x0=px(242), x1=px(266),
                   y0=py(rows[3]), y1=py(rows[3]), line=dict(color=RED, width=1.6, dash="dash"),
                   layer="above"))
for lbl, ry in zip(LEGEND_LABELS, rows):
    ann.append(dict(text=lbl, x=px(268), y=py(ry), xref="paper", yref="paper",
                    xanchor="left", yanchor="middle", showarrow=False,
                    font=dict(family=SANS, size=12.5, color="#222")))

fig.update_layout(annotations=ann, shapes=shapes)

fig.write_html("out.html", config={"displayModeBar": False},
               post_script="document.body.style.margin='0';document.body.style.padding='0';"
                           "document.body.style.overflow='hidden';")
